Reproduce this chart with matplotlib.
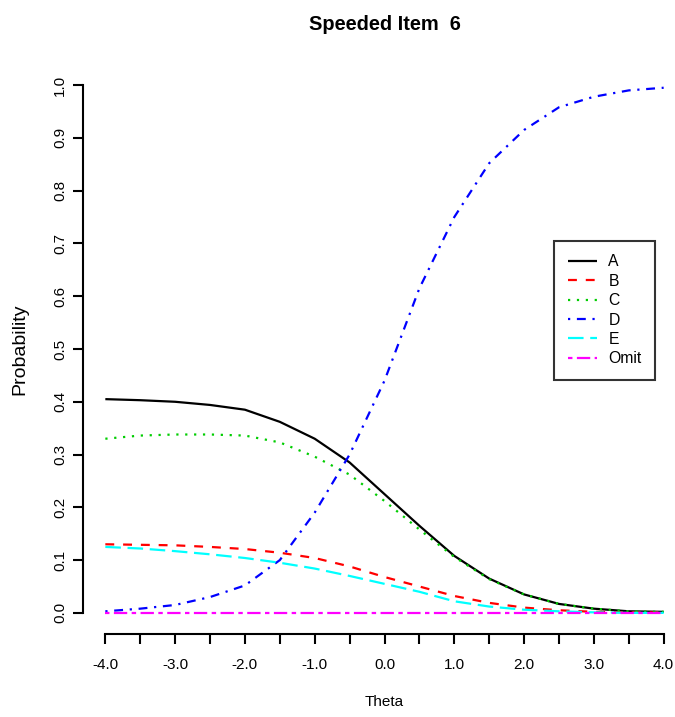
import matplotlib
matplotlib.use("Agg")
import matplotlib.pyplot as plt

plt.rcParams['font.family'] = ['Liberation Sans', 'DejaVu Sans']

theta = [-4.0, -3.5, -3.0, -2.5, -2.0, -1.5, -1.0, -0.5, 0.0,
         0.5, 1.0, 1.5, 2.0, 2.5, 3.0, 3.5, 4.0]
prob_A = [0.405, 0.403, 0.400, 0.394, 0.385, 0.362, 0.330, 0.285, 0.225,
          0.165, 0.108, 0.065, 0.035, 0.017, 0.008, 0.003, 0.002]
prob_B = [0.130, 0.129, 0.128, 0.125, 0.121, 0.114, 0.104, 0.088, 0.068,
          0.050, 0.032, 0.019, 0.010, 0.005, 0.002, 0.001, 0.001]
prob_C = [0.330, 0.336, 0.338, 0.338, 0.336, 0.323, 0.296, 0.262, 0.212,
          0.158, 0.106, 0.064, 0.035, 0.017, 0.008, 0.003, 0.002]
prob_D = [0.003, 0.008, 0.015, 0.030, 0.052, 0.100, 0.190, 0.300, 0.440,
          0.615, 0.750, 0.852, 0.915, 0.958, 0.978, 0.990, 0.995]
prob_E = [0.125, 0.122, 0.117, 0.111, 0.104, 0.095, 0.084, 0.070, 0.055,
          0.040, 0.022, 0.012, 0.006, 0.003, 0.001, 0.000, 0.000]
prob_Omit = [0.0, 0.0, 0.0, 0.0, 0.0, 0.0, 0.0, 0.0, 0.0,
             0.0, 0.0, 0.0, 0.0, 0.0, 0.0, 0.0, 0.0]

labels = ["A", "B", "C", "D", "E", "Omit"]
series = [prob_A, prob_B, prob_C, prob_D, prob_E, prob_Omit]
colors = ["#000000", "#FF0000", "#00CD00", "#0000FF", "#00FFFF", "#FF00FF"]
dashes = [None, (4, 4), (1, 3), (1, 3, 4, 3), (7, 3), (2, 2, 6, 2)]

x_ticks = [-4.0, -3.5, -3.0, -2.5, -2.0, -1.5, -1.0, -0.5, 0.0,
           0.5, 1.0, 1.5, 2.0, 2.5, 3.0, 3.5, 4.0]
x_labels = ["-4.0", "", "-3.0", "", "-2.0", "", "-1.0", "", "0.0",
            "", "1.0", "", "2.0", "", "3.0", "", "4.0"]
y_ticks = [0.0, 0.1, 0.2, 0.3, 0.4, 0.5, 0.6, 0.7, 0.8, 0.9, 1.0]
y_labels = ["0.0", "0.1", "0.2", "0.3", "0.4", "0.5", "0.6", "0.7", "0.8", "0.9", "1.0"]

W, H = 675, 717
fig = plt.figure(figsize=(W / 100, H / 100), dpi=100)
ax = fig.add_axes([83 / W, (H - 634) / H, 603 / W, 570 / H])

lw = 1.6
for lab, ys, c, d in zip(labels, series, colors, dashes):
    if d is None:
        ax.plot(theta, ys, color=c, lw=lw, label=lab, solid_capstyle='butt')
    else:
        ax.plot(theta, ys, color=c, lw=lw, label=lab, dashes=d, dash_capstyle='butt')

ax.set_xlim(-4.32, 4.32)
ax.set_ylim(-0.04, 1.04)
for s in ['top', 'right']:
    ax.spines[s].set_visible(False)
ax.spines['left'].set_bounds(0, 1)
ax.spines['bottom'].set_bounds(-4, 4)
ax.spines['left'].set_linewidth(1.5)
ax.spines['bottom'].set_linewidth(1.5)

ax.set_xticks(x_ticks)
ax.set_xticklabels(x_labels)
ax.set_yticks(y_ticks)
ax.set_yticklabels(y_labels, rotation=90, va='center')
ax.tick_params(axis='x', length=7.5, width=1.5, pad=10, labelsize=11)
ax.tick_params(axis='y', length=7.5, width=1.5, pad=4, labelsize=11)

ax.set_xlabel("Theta", fontsize=11)
ax.xaxis.set_label_coords(0.5, -(702 - 634) / 570)
ax.xaxis.label.set_va('center')
ax.set_ylabel("Probability", fontsize=14)
ax.yaxis.set_label_coords(-(83 - 20) / 603, 0.5)
ax.yaxis.label.set_va('center')

ax.text(0.5, (634 - 25) / 570, "Speeded Item  6", transform=ax.transAxes,
        ha='center', va='center', fontsize=14.4, fontweight='bold')

leg = fig.legend(loc='upper right', bbox_to_anchor=(655 / W, 1 - 241 / H),
                 bbox_transform=fig.transFigure, fontsize=11.3,
                 handlelength=1.9, handletextpad=0.7, labelspacing=0.28,
                 borderpad=0.85, fancybox=False, frameon=True, borderaxespad=0)
leg.get_frame().set_edgecolor('black')
leg.get_frame().set_linewidth(1.5)

fig.savefig("out.png", dpi=100)
